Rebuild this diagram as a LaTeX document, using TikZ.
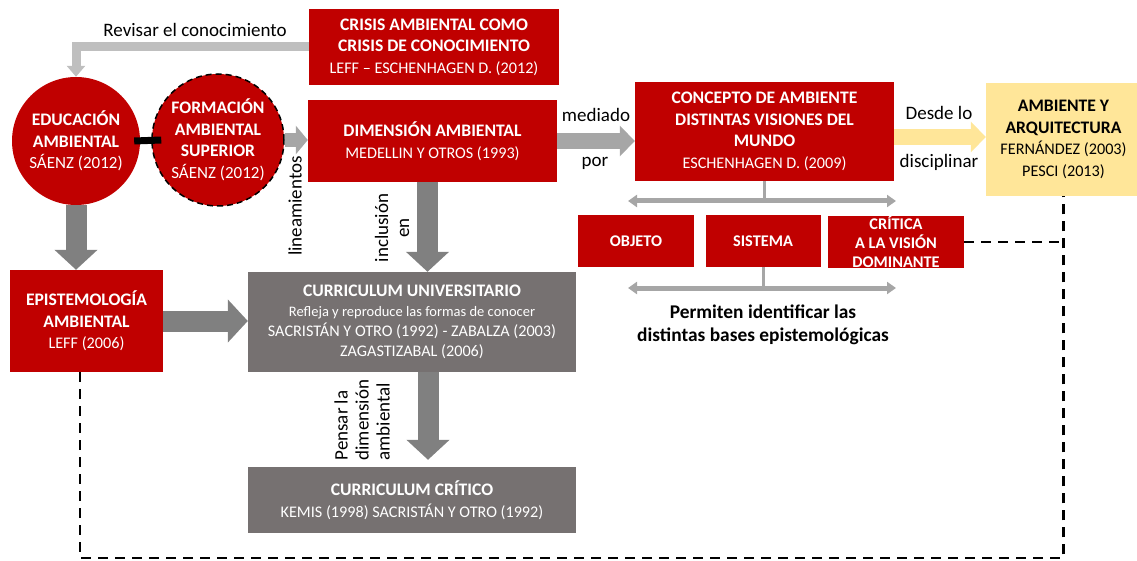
\documentclass[tikz,border=0pt]{standalone}
\usepackage{fontspec}
\setmainfont{Carlito}
\usepackage{tikz}
\usetikzlibrary{arrows.meta}
\usetikzlibrary{positioning}

\definecolor{rojo}{HTML}{C00000}
\definecolor{grisbox}{HTML}{767171}
\definecolor{grisflecha}{HTML}{808080}
\definecolor{grisclaro}{HTML}{A6A6A6}
\definecolor{grisrevisar}{HTML}{BFBFBF}
\definecolor{amarillo}{HTML}{FFE699}

\newcommand{\bt}[1]{{\fontsize{17.6}{21.5}\selectfont\bfseries #1}}

\begin{document}
\begin{tikzpicture}[x=1pt, y=-1pt,
	caja/.style={rectangle, fill=rojo, text=white, inner sep=0pt, align=center, font=\fontsize{16.2}{21.5}\selectfont},
	cajagris/.style={caja, fill=grisbox},
	circulo/.style={caja, circle, minimum size=128pt, font=\fontsize{17}{21.5}\selectfont},
	opcion/.style={caja, minimum height=52pt, font=\fontsize{16.3}{19}\selectfont\bfseries},
	etiqueta/.style={inner sep=0pt, align=center, font=\fontsize{19}{21}\selectfont},
	flecha/.style={draw=grisflecha, line width=21pt, -{Triangle[width=42pt,length=20pt]}},
	flechaclara/.style={draw=grisclaro, line width=16pt, -{Triangle[width=30pt,length=15pt]}},
	dobleflecha/.style={draw=grisclaro, line width=5pt, {Triangle[width=12pt,length=9pt]}-{Triangle[width=12pt,length=9pt]}},
	punteada/.style={draw=black, line width=2.2pt, dash pattern=on 10pt off 7pt}]
	\useasboundingbox (0,0) rectangle (1137,561);
	\node[caja, minimum width=250pt, minimum height=76pt] (crisis) at (434, 47) {\bt{CRISIS AMBIENTAL COMO}\\\bt{CRISIS DE CONOCIMIENTO}\\LEFF – ESCHENHAGEN D. (2012)};
	\node[circulo] (educacion) at (76, 141) {\bt{EDUCACIÓN}\\\bt{AMBIENTAL}\\SÁENZ (2012)};
	\node[circulo, minimum size=132pt, draw=black, line width=1.5pt, dash pattern=on 6pt off 4pt] (formacion) at (218, 140) {\bt{FORMACIÓN}\\\bt{AMBIENTAL}\\\bt{SUPERIOR}\\SÁENZ (2012)};
	\node[caja, minimum width=249pt, minimum height=82pt] (dimension) at (432.5, 141) {\bt{DIMENSIÓN AMBIENTAL}\\MEDELLIN Y OTROS (1993)};
	\node[caja, minimum width=259pt, minimum height=99pt] (concepto) at (764.5, 131.5) {\bt{CONCEPTO DE AMBIENTE}\\\bt{DISTINTAS VISIONES DEL}\\\bt{MUNDO}\\ESCHENHAGEN D. (2009)};
	\node[caja, fill=amarillo, text=black, minimum width=155pt, minimum height=113pt] (ambiente) at (1063.5, 139.5) {\bt{AMBIENTE Y}\\\bt{ARQUITECTURA}\\FERNÁNDEZ (2003)\\PESCI (2013)};
	\node[opcion, minimum width=116pt] (objeto) at (636, 241) {OBJETO};
	\node[opcion, minimum width=115pt] (sistema) at (763, 241) {SISTEMA};
	\node[opcion, minimum width=136pt] (critica) at (896, 242) {CRÍTICA\\A LA VISIÓN\\DOMINANTE};
	\node[caja, minimum width=153pt, minimum height=102pt] (epistemologia) at (86.5, 321) {\bt{EPISTEMOLOGÍA}\\\bt{AMBIENTAL}\\LEFF (2006)};
	\node[cajagris, minimum width=328pt, minimum height=100pt, font=\fontsize{16.2}{20}\selectfont] (curriculum) at (412, 322) {\bt{CURRICULUM UNIVERSITARIO}\\{\fontsize{14.5}{20}\selectfont Refleja y reproduce las formas de conocer}\\SACRISTÁN Y OTRO (1992) - ZABALZA (2003)\\ZAGASTIZABAL (2006)};
	\node[cajagris, minimum width=328pt, minimum height=66pt] (critico) at (412, 500) {\bt{CURRICULUM CRÍTICO}\\KEMIS (1998) SACRISTÁN Y OTRO (1992)};
	\node[etiqueta] (revisar) at (195, 30) {Revisar el conocimiento};
	\node[etiqueta, rotate=90] (lineamientos) at (295, 206) {lineamientos};
	\node[etiqueta, rotate=90] (inclusion) at (392, 228) {inclusión\\en};
	\node[etiqueta, rotate=90, align=left] (pensar) at (362, 420) {Pensar la\\dimensión\\ambiental};
	\node[etiqueta] (mediado) at (596, 115) {mediado};
	\node[etiqueta] (por) at (595, 163) {por};
	\node[etiqueta] (desde) at (939, 113) {Desde lo};
	\node[etiqueta] (disciplinar) at (939, 162) {disciplinar};
	\node[etiqueta, font=\fontsize{19.4}{23.5}\selectfont\bfseries] (permiten) at (763, 325) {Permiten identificar las\\distintas bases epistemológicas};
	\coordinate (izq1) at (628, 201);
	\coordinate (der1) at (896, 201);
	\coordinate (izq2) at (628, 288);
	\coordinate (der2) at (896, 288);
	\coordinate (d1) at ([xshift=-5pt]dimension.south);
	\coordinate (c1) at ([xshift=16pt]curriculum.south);
	\coordinate (y1) at ([yshift=-5.5pt]concepto.east);
	\coordinate (esq) at (80, 558);
	\draw[draw=grisrevisar, line width=9pt, -{Triangle[width=18pt,length=11pt]}] (crisis.west) -| (educacion.north);
	\draw[draw=black, line width=7pt] ([xshift=-6pt]educacion.east) -- ([xshift=10pt]formacion.west);
	\draw[draw=grisclaro, line width=14pt, -{Triangle[width=28pt,length=12pt]}] (formacion.east) -- (formacion.east -| dimension.west);
	\draw[flechaclara] (dimension.east) -- (dimension.east -| concepto.west);
	\draw[flechaclara, draw=amarillo] (y1) -- (y1 -| ambiente.west);
	\draw[flecha] (educacion.south) -- (educacion.south |- epistemologia.north);
	\draw[flecha] (epistemologia.east) -- (epistemologia.east -| curriculum.west);
	\draw[flecha] (d1) -- (d1 |- curriculum.north);
	\draw[flecha] (c1) -- ([yshift=7pt]c1 |- critico.north);
	\draw[draw=grisclaro, line width=3pt] (concepto.south) -- (concepto.south |- izq1);
	\draw[dobleflecha] (izq1) -- (der1);
	\draw[draw=grisclaro, line width=3pt] (sistema.south) -- (sistema.south |- izq2);
	\draw[dobleflecha] (izq2) -- (der2);
	\draw[punteada] (epistemologia.south -| esq) -- (esq) -| (ambiente.south);
	\draw[punteada] (critica.east) -- (critica.east -| ambiente.south);
\end{tikzpicture}
\end{document}
